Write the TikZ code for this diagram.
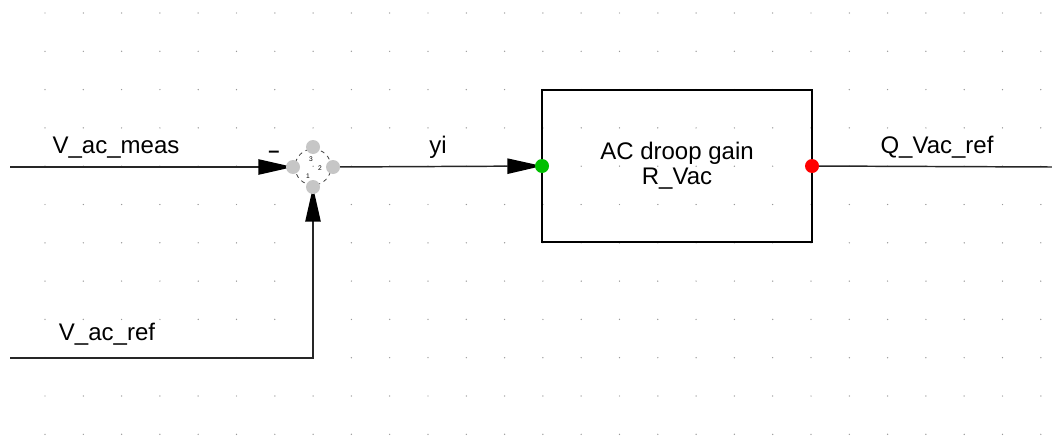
\documentclass[tikz,border=0pt]{standalone}
\usepackage{fontspec}
\setmainfont{Liberation Sans}
\usetikzlibrary{arrows.meta,positioning,backgrounds}

\begin{document}
\begin{tikzpicture}[x=0.75pt,y=-0.75pt,
font=\fontsize{18}{19}\selectfont,
wire/.style={draw=black!85, line width=1.1pt},
tip/.style={-{Triangle[length=26pt, width=11.5pt, black]}},
sumblk/.style={circle, draw=black!75, dashed, line width=0.6pt, minimum size=27pt, inner sep=0, outer sep=1.5pt},
gainblk/.style={draw, line width=1.9pt, minimum width=202.5pt, minimum height=114pt, align=center, outer sep=0, inner sep=0},
port/.style={circle, fill=gray!45, inner sep=0, minimum size=10.5pt},
inport/.style={circle, fill=green!75!black, inner sep=0, minimum size=10.5pt},
outport/.style={circle, fill=red, inner sep=0, minimum size=10.5pt},
lbl/.style={anchor=base}]

    \useasboundingbox (0,0) rectangle (1052,439);

    % grid
    \foreach \i in {0,...,26}
        \foreach \j in {0,...,11}
            \fill[gray!80] (45+38.3*\i, 13+38.3*\j) circle (0.55pt);

    \coordinate (measin) at (10,167);
    \coordinate (refin) at (10,358);
    \coordinate (qout) at (1052,167);

    \node[sumblk] (sum) at (313,167) {};
    \node[gainblk] (gain) at (677,166) {AC droop gain\\R\_Vac};

    \draw[wire, tip] (measin) -- (sum.west);
    \draw[wire, tip] (refin) -| (sum.south);
    \draw[wire, tip] (sum.east) -- (gain.west);
    \draw[wire] (gain.east) -- (qout);

    \node[port] (p1) at (sum.west) {};
    \node[port] (p2) at (sum.east) {};
    \node[port] (p3) at (sum.south) {};
    \node[port] (p4) at (sum.north) {};
    \node[inport] (gin) at (gain.west) {};
    \node[outport] (gout) at (gain.east) {};

    \node[inner sep=0, font=\fontsize{5}{5}\selectfont] at (311,159) {3};
    \node[inner sep=0, font=\fontsize{5}{5}\selectfont] at (320,168) {2};
    \node[inner sep=0, font=\fontsize{5}{5}\selectfont] at (308,176) {1};
    \node[inner sep=0, font=\fontsize{15}{15}\selectfont\bfseries] (minus) at (274,154) {--};

    \node[lbl] (meas) at (116,153) {V\_ac\_meas};
    \node[lbl] (ref) at (107,340) {V\_ac\_ref};
    \node[lbl] (yi) at (438,153) {yi};
    \node[lbl] (q) at (937,153) {Q\_Vac\_ref};
\end{tikzpicture}
\end{document}
